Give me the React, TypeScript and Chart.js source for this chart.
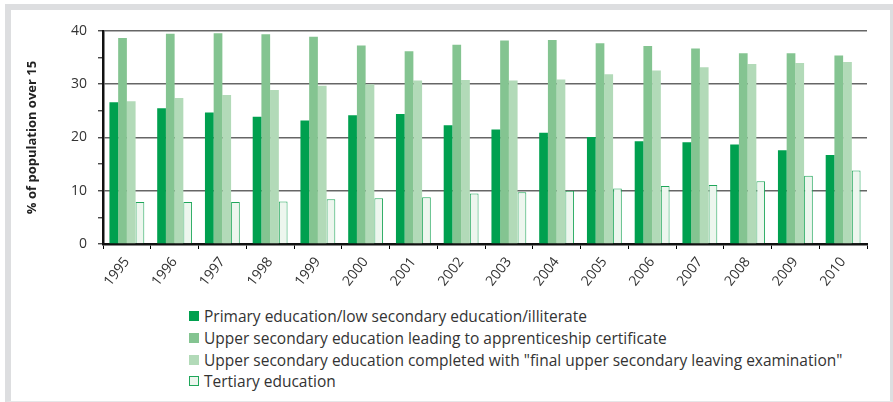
import React, { useEffect, useRef } from "react";
import { Chart, registerables } from "chart.js";

Chart.register(...registerables);

const years = ["1995","1996","1997","1998","1999","2000","2001","2002","2003","2004","2005","2006","2007","2008","2009","2010"];
const primary = [26.6,25.5,24.7,23.9,23.2,24.2,24.4,22.3,21.5,20.9,20.1,19.3,19.1,18.7,17.6,16.7];
const apprenticeship = [38.7,39.5,39.6,39.4,38.9,37.3,36.2,37.4,38.2,38.3,37.7,37.2,36.7,35.8,35.8,35.4];
const finalExam = [26.8,27.4,28.0,28.9,29.7,30.0,30.7,30.8,30.7,30.9,31.9,32.6,33.2,33.8,34.0,34.2];
const tertiary = [7.9,7.9,7.9,8.0,8.4,8.6,8.8,9.5,9.7,10.0,10.4,10.9,11.1,11.8,12.8,13.8];

const seriesNames = [
  "Primary education/low secondary education/illiterate",
  "Upper secondary education leading to apprenticeship certificate",
  "Upper secondary education completed with \"final upper secondary leaving examination\"",
  "Tertiary education",
];
const fills = ["#00a04f", "#84c491", "#b2dab8", "#edf6ee"];
const borders = ["#00a04f", "#84c491", "#b2dab8", "#1fa65a"];
const yTitle = "% of population over 15";

const FONT = "'Open Sans', sans-serif";

export default function App() {
  const ref = useRef<HTMLCanvasElement | null>(null);
  useEffect(() => {
    if (!ref.current) return;
    const data = [primary, apprenticeship, finalExam, tertiary];
    const chart = new Chart(ref.current, {
      type: "bar",
      data: {
        labels: years,
        datasets: data.map((d, i) => ({
          label: seriesNames[i],
          data: d,
          backgroundColor: fills[i],
          borderColor: borders[i],
          borderWidth: i === 3 ? 1 : 0,
          categoryPercentage: 0.73,
          barPercentage: 1,
        })),
      },
      options: {
        animation: false,
        responsive: false,
        maintainAspectRatio: false,
        layout: { padding: { left: 20, top: 31, right: 26, bottom: 0 } },
        plugins: { legend: { display: false }, tooltip: { enabled: false } },
        scales: {
          x: {
            afterFit: (s: any) => { s.height = 56; },
            grid: {
              offset: true,
              drawOnChartArea: false,
              drawTicks: true,
              tickLength: 5,
              tickColor: "#000",
              color: "#000",
            },
            border: { color: "#111", width: 2.5 },
            ticks: {
              maxRotation: 52,
              minRotation: 52,
              color: "#333",
              font: { family: FONT, size: 14 },
              padding: 5,
            },
          },
          y: {
            min: 0,
            max: 40,
            afterFit: (s: any) => { s.width = 83; },
            ticks: {
              stepSize: 5,
              color: "#333",
              padding: 11,
              font: { family: FONT, size: 14 },
              callback: (v: any) => (Number(v) % 10 === 0 ? String(v) : ""),
            },
            grid: {
              color: (c: any) => (c.tick && c.tick.value % 10 === 0 && c.tick.value !== 0 ? "#666" : "rgba(0,0,0,0)"),
              lineWidth: 1.6,
              tickColor: "#000",
              tickLength: 5,
              tickWidth: 1,
            },
            border: { color: "#111", width: 2.5 },
            title: {
              display: true,
              text: yTitle,
              color: "#222",
              font: { family: FONT, size: 13, weight: "bold" },
            },
          },
        },
      },
    });
    return () => chart.destroy();
  }, []);

  const rowTop = [306, 328, 350, 371];
  return (
    <div style={{ position: "absolute", left: 0, top: 0, width: 893, height: 402, background: "#fff", overflow: "hidden", fontFamily: FONT }}>
      <div style={{ position: "absolute", left: 5, top: 4, width: 888, height: 398, boxSizing: "border-box", borderTop: "6px solid #dddee0", borderLeft: "6px solid #dddee0", borderRight: "3px solid #dddee0", borderBottom: "1px solid #e6e6e8" }} />
      <canvas ref={ref} width={893} height={300} style={{ position: "absolute", left: 0, top: 0, width: 893, height: 300 }} />
      {seriesNames.map((n, i) => (
        <div key={n} style={{ position: "absolute", left: 189, top: rowTop[i], height: 20, display: "flex", alignItems: "center", whiteSpace: "nowrap" }}>
          <span style={{ display: "inline-block", width: 10, height: 10, boxSizing: "border-box", background: fills[i], border: i === 3 ? "1.5px solid " + borders[i] : "none", marginRight: 5 }} />
          <span style={{ fontSize: 15.5, color: "#333", lineHeight: "20px" }}>{n}</span>
        </div>
      ))}
    </div>
  );
}
